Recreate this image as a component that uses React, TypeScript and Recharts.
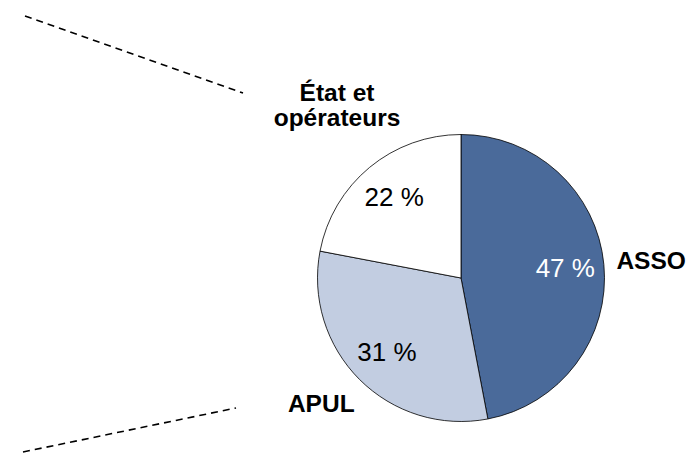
import React from 'react'
import { PieChart, Pie, Cell } from 'recharts'

// parts of the total, clockwise from 12 o'clock
const sectors = ['ASSO', 'APUL', 'État et opérateurs']
const shares = [47, 31, 22]
const nameLines = [['ASSO'], ['APUL'], ['État et', 'opérateurs']]

const fills = ['#4A6A9A', '#C2CDE1', '#FFFFFF']
const pctColors = ['#FFFFFF', '#000000', '#000000']

// where the outside names sit (radius in px, angle nudge in degrees)
const nameNudge = [
  { r: 191, da: 0 },
  { r: 188, da: -3 },
  { r: 213, da: -4 }
]

const FONT = '"Liberation Sans", Arial, Helvetica, sans-serif'
const RAD = Math.PI / 180

const data = sectors.map((name, i) => ({ name, value: shares[i] }))

function renderLabel (props: any) {
  const { cx, cy, midAngle, outerRadius, index } = props
  const r = outerRadius * 0.73
  const px = cx + r * Math.cos(-midAngle * RAD)
  const py = cy + r * Math.sin(-midAngle * RAD)

  const nudge = nameNudge[index]
  const a = (midAngle + nudge.da) * RAD
  const nx = cx + nudge.r * Math.cos(-a)
  const ny = cy + nudge.r * Math.sin(-a)
  const lines = nameLines[index]
  const lh = 25
  const top = ny - ((lines.length - 1) * lh) / 2

  return (
    <g key={`lbl-${index}`}>
      <text
        x={px}
        y={py + 9}
        textAnchor="middle"
        fontFamily={FONT}
        fontSize={26}
        fill={pctColors[index]}
      >
        {shares[index]} %
      </text>
      <text
        textAnchor="middle"
        fontFamily={FONT}
        fontSize={24.5}
        fontWeight="bold"
        fill="#000"
      >
        {lines.map((ln, j) => (
          <tspan key={j} x={nx} y={top + j * lh + 8.5}>
            {ln}
          </tspan>
        ))}
      </text>
    </g>
  )
}

export default function App () {
  return (
    <div style={{ position: 'absolute', left: 0, top: 0, background: '#fff' }}>
      <PieChart width={690} height={453} margin={{ top: 0, right: 0, bottom: 0, left: 0 }}>
        {/* dashed leader lines toward the left */}
        <line x1={25} y1={16} x2={243} y2={93} stroke="#000" strokeWidth={1.6} strokeDasharray="7 5" />
        <line x1={23} y1={452} x2={236} y2={408} stroke="#000" strokeWidth={1.6} strokeDasharray="7 5" />
        <Pie
          data={data}
          dataKey="value"
          nameKey="name"
          cx={461}
          cy={278}
          outerRadius={143.5}
          startAngle={90}
          endAngle={-270}
          stroke="#000"
          strokeWidth={0.8}
          label={renderLabel}
          labelLine={false}
          isAnimationActive={false}
        >
          {data.map((entry, index) => (
            <Cell key={`cell-${index}`} fill={fills[index]} />
          ))}
        </Pie>
      </PieChart>
    </div>
  )
}
